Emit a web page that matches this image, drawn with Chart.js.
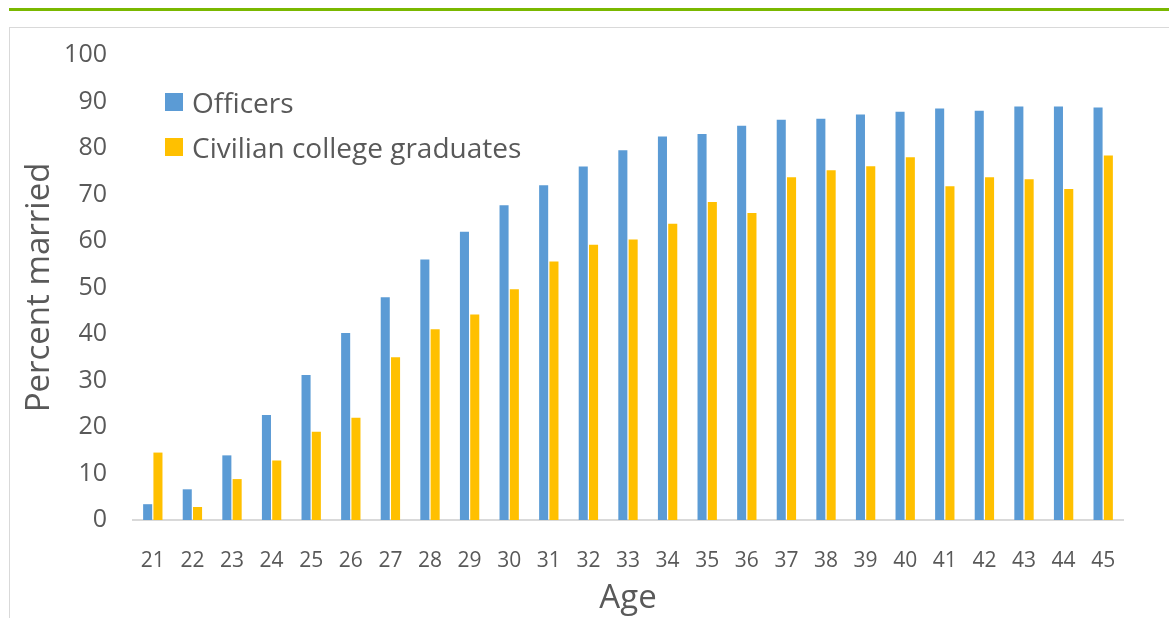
<!DOCTYPE html>
<html>
<head>
<meta charset="utf-8">
<script src="https://cdn.jsdelivr.net/npm/chart.js@4.4.1/dist/chart.umd.min.js"></script>
<style>
  body { margin: 0; background: #fff; font-family: "Open Sans", sans-serif; overflow: hidden; }
  #topline { position: absolute; left: 9px; top: 8px; width: 1160px; height: 3px; background: #7ab800; }
  #box { position: absolute; left: 9px; top: 27px; width: 1170px; height: 600px; border: 1px solid #d9d9d9; }
  #wrap { position: absolute; left: 0; top: -6px; width: 1159px; height: 596px; }
  #legend { position: absolute; left: 155px; top: 51px; color: #595959; font-size: 28px; }
  .item { display: flex; align-items: center; height: 45px; }
  .sw { width: 18px; height: 18px; margin-right: 9px; }
</style>
</head>
<body>
<div id="topline"></div>
<div id="box">
  <div id="wrap"><canvas id="myChart"></canvas></div>
  <div id="legend">
    <div class="item"><span class="sw" style="background:#5b9bd5"></span>Officers</div>
    <div class="item"><span class="sw" style="background:#ffc000"></span>Civilian college graduates</div>
  </div>
</div>
<script>
var ages = ["21","22","23","24","25","26","27","28","29","30","31","32","33","34","35","36","37","38","39","40","41","42","43","44","45"];
var officers = [3.4, 6.6, 13.9, 22.6, 31.2, 40.2, 47.9, 56, 62, 67.7, 72, 76, 79.5, 82.5, 83, 84.8, 86.1, 86.3, 87.2, 87.8, 88.5, 88, 88.9, 88.9, 88.7];
var civilians = [14.5, 2.8, 8.8, 12.8, 19, 22, 35, 41, 44.2, 49.6, 55.6, 59.2, 60.3, 63.7, 68.4, 66, 73.7, 75.2, 76.1, 78, 71.8, 73.7, 73.3, 71.2, 78.4];

var textColor = "#595959";

new Chart("myChart", {
  type: "bar",
  data: {
    labels: ages,
    datasets: [{
      label: "Officers",
      backgroundColor: "#5b9bd5",
      data: officers,
      categoryPercentage: 0.52,
      barPercentage: 0.88
    }, {
      label: "Civilian college graduates",
      backgroundColor: "#ffc000",
      data: civilians,
      categoryPercentage: 0.52,
      barPercentage: 0.88
    }]
  },
  options: {
    responsive: true,
    maintainAspectRatio: false,
    animation: false,
    layout: { padding: { left: 0, right: 46, top: 6, bottom: 0 } },
    plugins: {
      legend: { display: false },
      tooltip: { enabled: false }
    },
    scales: {
      x: {
        grid: { display: false },
        border: { color: "#d9d9d9", width: 2 },
        ticks: { color: textColor, font: { family: "Open Sans", size: 21 }, padding: 20 },
        title: { display: true, text: "Age", color: textColor, font: { family: "Open Sans", size: 33 }, padding: { top: 0, bottom: 0 } },
        afterFit: function (s) { s.height = 98; }
      },
      y: {
        min: 0,
        max: 100,
        grid: { display: false },
        border: { display: false },
        ticks: { stepSize: 10, color: textColor, font: { family: "Open Sans", size: 25 }, padding: 18 },
        title: { display: true, text: "Percent married", color: textColor, font: { family: "Open Sans", size: 33 }, padding: { top: 10, bottom: 4 } },
        afterFit: function (s) { s.width = 123; }
      }
    }
  }
});
</script>
</body>
</html>
